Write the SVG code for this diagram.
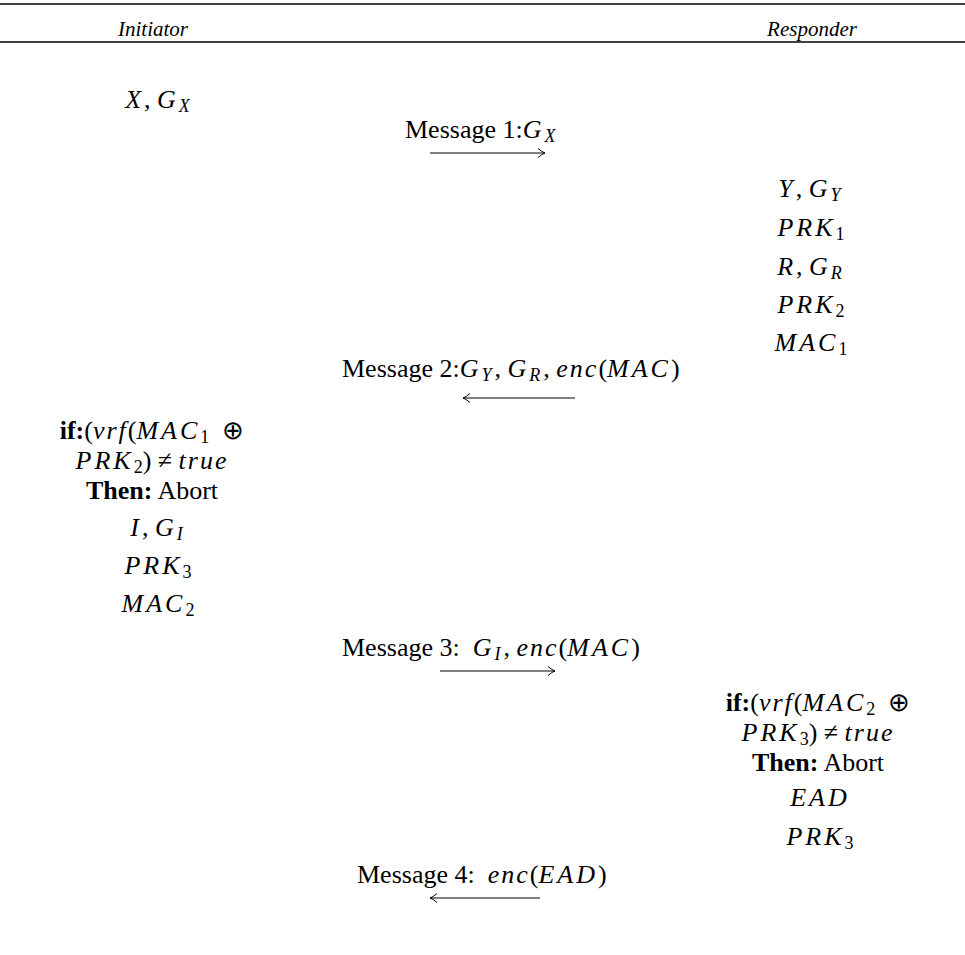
<svg xmlns="http://www.w3.org/2000/svg" width="965" height="955" viewBox="0 0 965 955">
<style>
text{font-family:"Liberation Serif","Times New Roman",serif;font-size:26px;fill:#000}
.h{font-size:21px;font-style:italic;text-anchor:middle}
.i{font-style:italic;letter-spacing:3px}
.l{font-style:italic;letter-spacing:2px}
.b{font-weight:bold}
.s{font-size:18px}
.c{text-anchor:middle}
.rule{stroke:#000;stroke-width:1.3}
.arr{stroke:#000;stroke-width:1;fill:none}
</style>
<defs>
<marker id="ah" markerWidth="12" markerHeight="12" refX="9" refY="6" orient="auto" markerUnits="userSpaceOnUse">
<path d="M2,1.5 Q6,5 9,6 Q6,7 2,10.5" fill="none" stroke="#000" stroke-width="1"/>
</marker>
</defs>
<rect width="965" height="955" fill="#fff"/>
<g id="table">
<line class="rule" x1="0" y1="4" x2="965" y2="4"/>
<line class="rule" x1="0" y1="42" x2="965" y2="42"/>
</g>
<g id="initiator_header"><text class="h" x="153" y="36">Initiator</text></g>
<g id="responder_header"><text class="h" x="812" y="36">Responder</text></g>

<g id="init_x"><text class="c" x="159" y="108"><tspan class="i">X</tspan>, <tspan class="i">G</tspan><tspan class="i s" dy="4">X</tspan></text></g>

<g id="msg1"><text x="405" y="138">Message 1:<tspan class="i">G</tspan><tspan class="i s" dy="4">X</tspan></text></g>

<g id="resp_keys">
<text class="c" x="811" y="197"><tspan class="i">Y</tspan>, <tspan class="i">G</tspan><tspan class="i s" dy="4">Y</tspan></text>
<text class="c" x="811" y="236"><tspan class="i">PRK</tspan><tspan class="s" dy="4">1</tspan></text>
<text class="c" x="811" y="275"><tspan class="i">R</tspan>, <tspan class="i">G</tspan><tspan class="i s" dy="4">R</tspan></text>
<text class="c" x="811" y="313"><tspan class="i">PRK</tspan><tspan class="s" dy="4">2</tspan></text>
<text class="c" x="811" y="351"><tspan class="i">MAC</tspan><tspan class="s" dy="4">1</tspan></text>
</g>

<g id="msg2"><text x="342" y="377">Message 2:<tspan class="i">G</tspan><tspan class="i s" dy="4">Y</tspan><tspan dy="-4">, </tspan><tspan class="i">G</tspan><tspan class="i s" dy="4">R</tspan><tspan dy="-4">, </tspan><tspan class="l">enc</tspan>(<tspan class="i">MAC</tspan>)</text></g>

<g id="init_verify">
<text class="c" x="152" y="439"><tspan class="b">if:</tspan>(<tspan class="l">vrf</tspan>(<tspan class="i">MAC</tspan><tspan class="s" dy="4">1</tspan><tspan dy="-4" xml:space="preserve">  ⊕</tspan></text>
<text class="c" x="152" y="469"><tspan class="i">PRK</tspan><tspan class="s" dy="4">2</tspan><tspan dy="-4">) ≠ </tspan><tspan class="l">true</tspan></text>
<text class="c" x="152" y="499"><tspan class="b">Then:</tspan> Abort</text>
<text class="c" x="158" y="536"><tspan class="i">I</tspan>, <tspan class="i">G</tspan><tspan class="i s" dy="4">I</tspan></text>
<text class="c" x="158" y="574"><tspan class="i">PRK</tspan><tspan class="s" dy="4">3</tspan></text>
<text class="c" x="158" y="612"><tspan class="i">MAC</tspan><tspan class="s" dy="4">2</tspan></text>
</g>

<g id="msg3"><text x="342" y="656" xml:space="preserve">Message 3:  <tspan class="i">G</tspan><tspan class="i s" dy="4">I</tspan><tspan dy="-4">, </tspan><tspan class="l">enc</tspan>(<tspan class="i">MAC</tspan>)</text></g>

<g id="resp_verify">
<text class="c" x="818" y="711"><tspan class="b">if:</tspan>(<tspan class="l">vrf</tspan>(<tspan class="i">MAC</tspan><tspan class="s" dy="4">2</tspan><tspan dy="-4" xml:space="preserve">  ⊕</tspan></text>
<text class="c" x="818" y="741"><tspan class="i">PRK</tspan><tspan class="s" dy="4">3</tspan><tspan dy="-4">) ≠ </tspan><tspan class="l">true</tspan></text>
<text class="c" x="818" y="771"><tspan class="b">Then:</tspan> Abort</text>
<text class="c" x="820" y="806"><tspan class="i">EAD</tspan></text>
<text class="c" x="820" y="845"><tspan class="i">PRK</tspan><tspan class="s" dy="4">3</tspan></text>
</g>

<g id="msg4"><text x="357" y="883" xml:space="preserve">Message 4:  <tspan class="l">enc</tspan>(<tspan class="i">EAD</tspan>)</text></g>

<g id="connectors">
<line class="arr" x1="430" y1="153" x2="545" y2="153" marker-end="url(#ah)"/>
<line class="arr" x1="575" y1="398" x2="463" y2="398" marker-end="url(#ah)"/>
<line class="arr" x1="440" y1="671" x2="555" y2="671" marker-end="url(#ah)"/>
<line class="arr" x1="540" y1="898" x2="430" y2="898" marker-end="url(#ah)"/>
</g>
</svg>
